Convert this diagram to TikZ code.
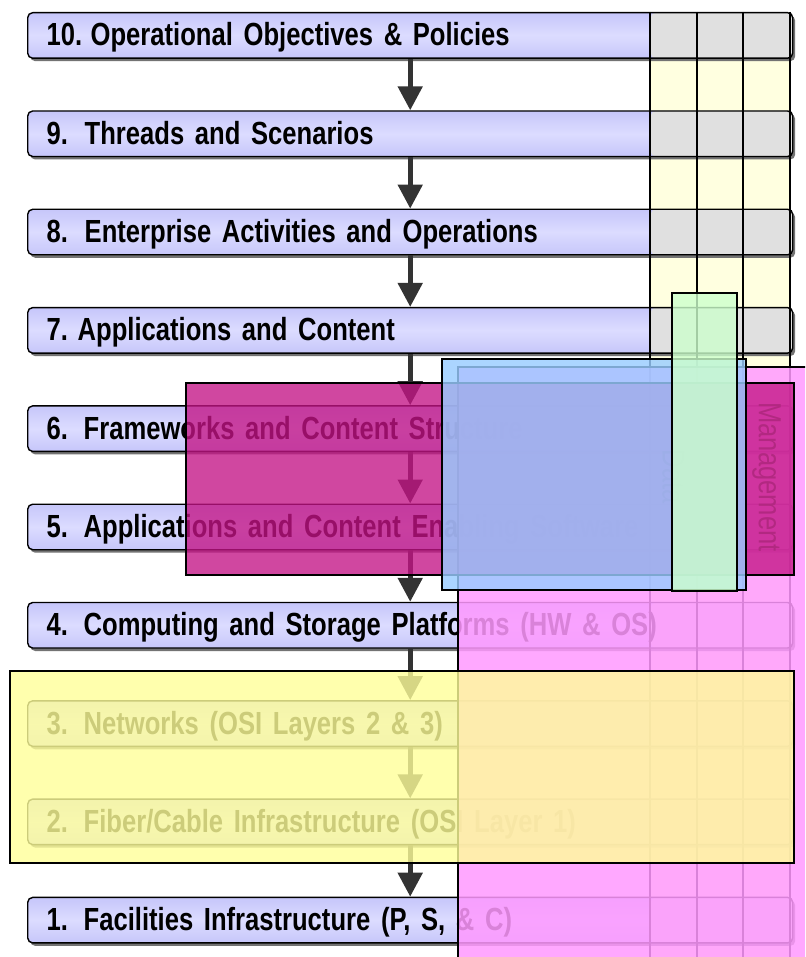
\documentclass[tikz,border=0pt]{standalone}
\usepackage{fontspec}
\setmainfont{Liberation Sans}[FakeStretch=0.8,WordSpace=0.85]
\usetikzlibrary{arrows.meta,shadows}
\definecolor{lav}{RGB}{198,198,250}
\definecolor{lavmid}{RGB}{220,220,255}
\definecolor{cellgray}{RGB}{224,224,224}
\definecolor{colbg}{RGB}{255,255,224}
\definecolor{arrowgray}{RGB}{51,51,51}
\definecolor{pinkc}{RGB}{255,153,255}
\definecolor{magc}{RGB}{196,20,134}
\definecolor{yelc}{RGB}{255,255,153}
\definecolor{bluec}{RGB}{153,204,255}
\definecolor{greenc}{RGB}{204,255,204}
\newcommand{\num}[2]{\makebox[#1][l]{#2}}
\tikzset{
  layerbar/.style={draw=black, line width=1.4pt, rounded corners=5pt,
    minimum width=765pt, minimum height=45.5pt, anchor=north west,
    inner xsep=19pt, text width=727pt, align=left,
    text height=21pt, text depth=0pt,
    font=\fontsize{32}{36}\selectfont\bfseries,
    top color=lav, bottom color=lav, middle color=lavmid,
    drop shadow={shadow xshift=2.5pt, shadow yshift=-3pt, fill=black!55, opacity=1},
    path picture={\fill[cellgray] ([xshift=-142pt]path picture bounding box.north east) rectangle (path picture bounding box.south east);}},
  colline/.style={draw=black, line width=1.4pt},
  arr/.style={draw=arrowgray, line width=5pt, -{Triangle[length=24pt,width=24pt]}},
  collabel/.style={rotate=-90, font=\fontsize{32}{36}\selectfont, text=black!55},
  overlay box/.style={draw=black, line width=1.4pt}
}
\begin{document}
\begin{tikzpicture}[x=1pt,y=-1pt]
\clip (0,0) rectangle (805,957);
\fill[white] (0,0) rectangle (805,957);
% column background
\fill[colbg] (650,12) rectangle (790,957);
% layer bars
\node[layerbar] (b10) at (27,12.0)  {\num{44pt}{10.}Operational Objectives \& Policies};
\node[layerbar] (b9)  at (27,110.3) {\num{38pt}{9.}Threads and Scenarios};
\node[layerbar] (b8)  at (27,208.6) {\num{38pt}{8.}Enterprise Activities and Operations};
\node[layerbar] (b7)  at (27,306.9) {\num{31pt}{7.}Applications and Content};
\node[layerbar] (b6)  at (27,405.2) {\num{37pt}{6.}Frameworks and Content Structure};
\node[layerbar] (b5)  at (27,503.5) {\num{37pt}{5.}Applications and Content Enabling Software};
\node[layerbar] (b4)  at (27,601.8) {\num{37pt}{4.}Computing and Storage Platforms (HW \& OS)};
\node[layerbar] (b3)  at (27,700.1) {\num{37pt}{3.}Networks (OSI Layers 2 \& 3)};
\node[layerbar] (b2)  at (27,798.4) {\num{37pt}{2.}Fiber/Cable Infrastructure (OSI Layer 1)};
\node[layerbar] (b1)  at (27,896.7) {\num{37pt}{1.}Facilities Infrastructure (P, S, \& C)};
% column lines
\foreach \cx in {650,697,743,790} \draw[colline] (\cx,12) -- (\cx,957);
% arrows
\draw[arr] (b10.south) -- (b9.north);
\draw[arr] (b9.south) -- (b8.north);
\draw[arr] (b8.south) -- (b7.north);
\draw[arr] (b7.south) -- (b6.north);
\draw[arr] (b6.south) -- (b5.north);
\draw[arr] (b5.south) -- (b4.north);
\draw[arr] (b4.south) -- (b3.north);
\draw[arr] (b3.south) -- (b2.north);
\draw[arr] (b2.south) -- (b1.north);
% overlays
\draw[overlay box, fill=pinkc, fill opacity=0.85] (458,367) rectangle (840,990);
% column labels
\node[collabel] (ldata) at (673.5,477) {Data};
\node[collabel] (lmgmt) at (766.5,477) {Management};
\draw[overlay box, fill=magc, fill opacity=0.78] (186,383) rectangle (794,575);
\draw[overlay box, fill=yelc, fill opacity=0.8] (10,671) rectangle (794,863);
\draw[overlay box, fill=bluec, fill opacity=0.82] (442,359) rectangle (746,590);
\draw[overlay box, fill=greenc, fill opacity=0.8] (672,293) rectangle (737,591);
\end{tikzpicture}
\end{document}
